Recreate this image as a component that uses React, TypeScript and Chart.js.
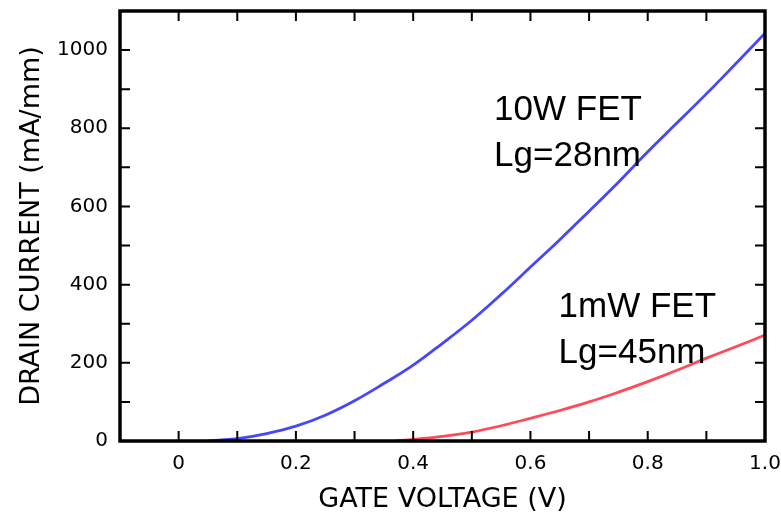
import React, { useEffect, useRef } from "react";
import { Chart, registerables } from "chart.js";

Chart.register(...registerables);

// Gate voltage (V) and drain current (mA/mm)
const fet10W_V = [0.05, 0.1, 0.15, 0.2, 0.25, 0.3, 0.35, 0.4, 0.45, 0.5, 0.55, 0.6, 0.65, 0.7, 0.75, 0.8, 0.85, 0.9, 0.95, 1.0];
const fet10W_I = [0, 6, 19, 38, 66, 103, 147, 194, 250, 309, 375, 445, 515, 588, 662, 740, 814, 888, 965, 1043];

const fet1mW_V = [0.37, 0.4, 0.45, 0.5, 0.55, 0.6, 0.65, 0.7, 0.75, 0.8, 0.85, 0.9, 0.95, 1.0];
const fet1mW_I = [0, 4, 12, 23, 39, 58, 78, 100, 125, 152, 181, 212, 241, 271];

const xTickValues = [0, 0.2, 0.4, 0.6, 0.8, 1.0];
const xTickLabels = ["0", "0.2", "0.4", "0.6", "0.8", "1.0"];
const xMinorValues = [0.1, 0.3, 0.5, 0.7, 0.9];
const yTickValues = [0, 200, 400, 600, 800, 1000];
const yTickLabels = ["0", "200", "400", "600", "800", "1000"];
const yMinorValues = [100, 300, 500, 700, 900];

const xTitle = "GATE VOLTAGE (V)";
const yTitle = "DRAIN CURRENT (mA/mm)";
const label10W = ["10W FET", "Lg=28nm"];
const label1mW = ["1mW FET", "Lg=45nm"];

const zeroPad = (s: any) => {
  s.paddingLeft = 0;
  s.paddingRight = 0;
  s.paddingTop = 0;
  s.paddingBottom = 0;
};

const framePlugin = {
  id: "frameTicks",
  afterDraw(chart: any) {
    const { ctx, chartArea, scales } = chart;
    const { left, right, top, bottom } = chartArea;
    const xs = scales.x;
    const ys = scales.y;
    const tl = 10;
    ctx.save();
    ctx.strokeStyle = "#000";
    ctx.lineWidth = 2;
    ctx.beginPath();
    [...xTickValues, ...xMinorValues].forEach((v) => {
      const px = xs.getPixelForValue(v);
      ctx.moveTo(px, bottom);
      ctx.lineTo(px, bottom - tl);
      ctx.moveTo(px, top);
      ctx.lineTo(px, top + tl);
    });
    [...yTickValues, ...yMinorValues].forEach((v) => {
      const py = ys.getPixelForValue(v);
      ctx.moveTo(left, py);
      ctx.lineTo(left + tl, py);
      ctx.moveTo(right, py);
      ctx.lineTo(right - tl, py);
    });
    ctx.stroke();
    ctx.lineWidth = 3.5;
    ctx.strokeRect(left, top, right - left, bottom - top);

    // annotations
    ctx.fillStyle = "#000";
    ctx.font = '35px "Liberation Sans", Arial, sans-serif';
    ctx.textAlign = "left";
    ctx.textBaseline = "alphabetic";
    const ax1 = xs.getPixelForValue(0.538);
    ctx.fillText(label10W[0], ax1, ys.getPixelForValue(821));
    ctx.fillText(label10W[1], ax1, ys.getPixelForValue(703));
    const ax2 = xs.getPixelForValue(0.648);
    ctx.fillText(label1mW[0], ax2, ys.getPixelForValue(317));
    ctx.fillText(label1mW[1], ax2, ys.getPixelForValue(200));

    // axis titles
    ctx.font = '27px "DejaVu Sans", sans-serif';
    ctx.textAlign = "center";
    ctx.textBaseline = "alphabetic";
    ctx.fillText(xTitle, (left + right) / 2, 507);
    ctx.translate(39, (top + bottom) / 2);
    ctx.rotate(-Math.PI / 2);
    ctx.fillText(yTitle, 0, 0);
    ctx.restore();
  },
};

export default function App() {
  const ref = useRef<HTMLCanvasElement | null>(null);
  useEffect(() => {
    if (!ref.current) return;
    const chart = new Chart(ref.current, {
      type: "line",
      data: {
        datasets: [
          {
            label: "10W FET",
            data: fet10W_V.map((v, i) => ({ x: v, y: fet10W_I[i] })),
            borderColor: "#4646ff",
            borderWidth: 2.8,
            pointRadius: 0,
            tension: 0.4,
            fill: false,
          },
          {
            label: "1mW FET",
            data: fet1mW_V.map((v, i) => ({ x: v, y: fet1mW_I[i] })),
            borderColor: "#ff4a5a",
            borderWidth: 2.8,
            pointRadius: 0,
            tension: 0.4,
            fill: false,
          },
        ],
      },
      options: {
        animation: false,
        responsive: false,
        devicePixelRatio: 1,
        layout: { autoPadding: false, padding: { left: 0, top: 11, right: 16, bottom: 0 } },
        plugins: { legend: { display: false }, tooltip: { enabled: false } },
        scales: {
          x: {
            type: "linear",
            min: -0.1,
            max: 1.0,
            border: { display: false },
            grid: { display: false, drawTicks: false },
            afterBuildTicks: (s: any) => {
              s.ticks = xTickValues.map((v) => ({ value: v }));
            },
            afterFit: (s: any) => {
              s.height = 71;
              zeroPad(s);
            },
            ticks: {
              autoSkip: false,
              maxRotation: 0,
              padding: 11,
              color: "#000",
              font: { family: '"DejaVu Sans", sans-serif', size: 20 },
              callback: (v: any) => {
                const i = xTickValues.findIndex((t) => Math.abs(t - Number(v)) < 1e-9);
                return i >= 0 ? xTickLabels[i] : "";
              },
            },
          },
          y: {
            type: "linear",
            min: 0,
            max: 1100,
            border: { display: false },
            grid: { display: false, drawTicks: false },
            afterBuildTicks: (s: any) => {
              s.ticks = yTickValues.map((v) => ({ value: v }));
            },
            afterFit: (s: any) => {
              s.width = 120;
              zeroPad(s);
            },
            ticks: {
              autoSkip: false,
              padding: 12,
              color: "#000",
              font: { family: '"DejaVu Sans", sans-serif', size: 20 },
              callback: (v: any) => {
                const i = yTickValues.indexOf(Number(v));
                return i >= 0 ? yTickLabels[i] : "";
              },
            },
          },
        },
      },
      plugins: [framePlugin],
    });
    return () => chart.destroy();
  }, []);
  return (
    <div style={{ position: "fixed", left: 0, top: 0, width: 781, height: 512, background: "#fff" }}>
      <canvas ref={ref} width={781} height={512} style={{ width: 781, height: 512, display: "block" }} />
    </div>
  );
}
